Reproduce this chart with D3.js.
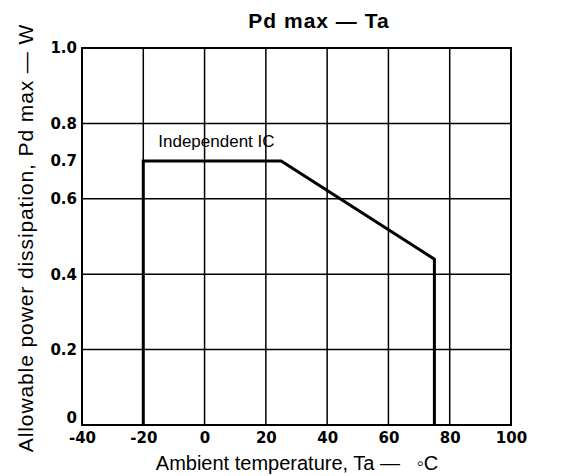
<!DOCTYPE html>
<html>
<head>
<meta charset="utf-8">
<script src="https://cdn.jsdelivr.net/npm/d3@7"></script>
<style>
body{margin:0;background:#fff;}
text{font-family:"Liberation Sans",Arial,sans-serif;fill:#000;}
.tick text{font-family:"DejaVu Sans",sans-serif;font-weight:bold;}
</style>
</head>
<body>
<script>
var margin = {left:82,right:50,top:48,bottom:51};
var width = 561;
var height = 476;

// data
var curveTa = [-20, -20, 25, 75, 75];
var curvePd = [0, 0.7, 0.7, 0.44, 0];
var xTicks = [-40, -20, 0, 20, 40, 60, 80, 100];
var yTicks = [0, 0.2, 0.4, 0.6, 0.7, 0.8, 1.0];
var yGrid = [0.2, 0.4, 0.6, 0.8];
var xGrid = [-20, 0, 20, 40, 60, 80];
var labelText = "Independent IC";

var svg = d3.select("body").append("svg").attr("width",width).attr("height",height);

var plotW = width - margin.left - margin.right;
var plotH = height - margin.top - margin.bottom;

var x = d3.scaleLinear().domain([-40,100]).range([0,plotW]);
var y = d3.scaleLinear().domain([0,1.0]).range([plotH,0]);

var chartGroup = svg.append("g")
            .attr("transform","translate("+margin.left+","+margin.top+")");

// grid
chartGroup.selectAll("line.vgrid").data(xGrid).enter().append("line")
            .attr("class","vgrid")
            .attr("x1",function(d){return x(d);}).attr("x2",function(d){return x(d);})
            .attr("y1",0).attr("y2",plotH)
            .attr("stroke","#000").attr("stroke-width",1.5);
chartGroup.selectAll("line.hgrid").data(yGrid).enter().append("line")
            .attr("class","hgrid")
            .attr("x1",0).attr("x2",plotW)
            .attr("y1",function(d){return y(d);}).attr("y2",function(d){return y(d);})
            .attr("stroke","#000").attr("stroke-width",1.5);

// frame
chartGroup.append("rect").attr("x",0).attr("y",0).attr("width",plotW).attr("height",plotH)
            .attr("fill","none").attr("stroke","#000").attr("stroke-width",2);

// axes (labels only)
var xAxis = d3.axisBottom(x).tickValues(xTicks).tickSize(0).tickPadding(6);
var yAxis = d3.axisLeft(y).tickValues(yTicks).tickSize(0).tickPadding(5)
            .tickFormat(function(d){return d===0 ? "0" : d3.format(".1f")(d);});

var gx = chartGroup.append("g").attr("transform","translate(0,"+plotH+")").call(xAxis);
gx.select(".domain").remove();
gx.selectAll("text").attr("font-size",15).attr("dy","0.8em")
            .text(function(d){return d<0 ? "-"+Math.abs(d) : d;});

var gy = chartGroup.append("g").call(yAxis);
gy.select(".domain").remove();
gy.selectAll("text").attr("font-size",15)
            .attr("dy",function(d){return d===0 ? "-0.15em" : "0.32em";});

// curve
var pts = curveTa.map(function(t,i){return [t,curvePd[i]];});
var line = d3.line().x(function(d){return x(d[0]);}).y(function(d){return y(d[1]);});
chartGroup.append("path").attr("d",line(pts))
            .attr("fill","none").attr("stroke","#000").attr("stroke-width",3)
            .attr("stroke-linejoin","miter");

chartGroup.append("text").attr("x",x(-20)+15).attr("y",y(0.7)-14)
            .attr("font-size",17).text(labelText);

// titles
svg.append("text").attr("x",319).attr("y",28).attr("text-anchor","middle")
            .attr("font-size",21).attr("font-weight","bold").attr("letter-spacing",1)
            .text("Pd max \u2014 Ta");
svg.append("text").attr("x",297).attr("y",470).attr("text-anchor","middle")
            .attr("font-size",20).attr("xml:space","preserve")
            .text("Ambient temperature, Ta \u2014   \u25E6C");
svg.append("text").attr("transform","translate(33,238) rotate(-90)").attr("text-anchor","middle")
            .attr("font-size",21).attr("letter-spacing",0.9)
            .text("Allowable power dissipation, Pd max \u2014 W");
</script>
</body>
</html>
